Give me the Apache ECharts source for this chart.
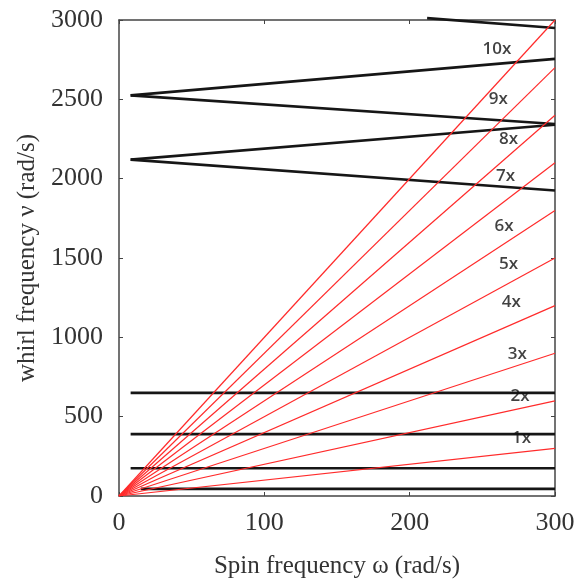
<!DOCTYPE html>
<html>
<head>
<meta charset="utf-8">
<script src="https://cdn.jsdelivr.net/npm/echarts@6/dist/echarts.min.js"></script>
<style>html,body{margin:0;padding:0;background:#fff}#c{width:585px;height:585px}</style>
</head>
<body>
<div id="c"></div>
<script>
// Spin speed range (rad/s) and engine-order ratios (red lines)
const spinRange = [0, 300];
const orderRatios = [1, 2, 3, 4, 5, 6, 7, 8, 9, 10];
// Horizontal (non-rotating) modes: level, start spin
const modeLevels = [45, 175, 390, 650];
const modeStarts = [15, 8, 8, 8];
// Forward/backward whirl branches [startSpin, startFreq, endSpin, endFreq]
const whirlBranches = [
  [8, 2120, 300, 2340],
  [8, 2120, 300, 1925],
  [8, 2525, 300, 2755],
  [8, 2525, 300, 2345],
  [212, 3012, 300, 2950]
];
// Order labels
const labelText = ['1x','2x','3x','4x','5x','6x','7x','8x','9x','10x'];
const labelX = [277, 276, 274, 270, 268, 265, 266, 268, 261, 260];
const labelY = [365, 630, 895, 1222, 1462, 1701, 2016, 2250, 2502, 2817];
const xTicks = [0, 100, 200, 300];
const yTicks = [0, 500, 1000, 1500, 2000, 2500, 3000];

const series = [];
orderRatios.forEach(k => {
  series.push({
    type: 'line', silent: true, symbol: 'none', z: 3,
    lineStyle: { color: '#ff2b2b', width: 1.2 },
    data: [[spinRange[0], k * spinRange[0]], [spinRange[1], k * spinRange[1]]]
  });
});
modeLevels.forEach((v, i) => {
  series.push({
    type: 'line', silent: true, symbol: 'none', z: 2,
    lineStyle: { color: '#161616', width: 2.6 },
    data: [[modeStarts[i], v], [spinRange[1], v]]
  });
});
whirlBranches.forEach(b => {
  series.push({
    type: 'line', silent: true, symbol: 'none', z: 2, clip: false,
    lineStyle: { color: '#161616', width: 2.6 },
    data: [[b[0], b[1]], [b[2], b[3]]]
  });
});
series.push({
  type: 'scatter', silent: true, symbolSize: 0, z: 5,
  data: labelText.map((t, i) => ({ value: [labelX[i], labelY[i]], name: t })),
  label: {
    show: true, position: 'inside', formatter: p => p.name,
    fontFamily: 'Open Sans', fontWeight: 600, fontSize: 17, color: '#111'
  }
});

const axisFont = { fontFamily: 'Liberation Serif', fontSize: 25, color: '#333' };
const plain = v => String(v);
const chart = echarts.init(document.getElementById('c'), null, { renderer: 'canvas' });
chart.setOption({
  animation: false,
  backgroundColor: '#fff',
  grid: { left: 119, right: 30, top: 20, bottom: 89 },
  xAxis: [{
    type: 'value', min: xTicks[0], max: xTicks[xTicks.length - 1], interval: 100,
    name: 'Spin frequency \u03C9 (rad/s)', nameLocation: 'middle', nameGap: 58,
    nameTextStyle: axisFont,
    axisLine: { show: true, onZero: false, lineStyle: { color: '#444', width: 1.5 } },
    axisTick: { show: true, inside: true, length: 4, lineStyle: { color: '#444' } },
    axisLabel: { fontFamily: 'Liberation Serif', fontSize: 26, color: '#333', margin: 14, formatter: plain },
    splitLine: { show: false }
  }, {
    type: 'value', position: 'top', min: 0, max: 300, interval: 100,
    axisLine: { show: true, onZero: false, lineStyle: { color: '#444', width: 1.5 } },
    axisTick: { show: true, inside: true, length: 4, lineStyle: { color: '#444' } },
    axisLabel: { show: false }, splitLine: { show: false }
  }],
  yAxis: [{
    type: 'value', min: yTicks[0], max: yTicks[yTicks.length - 1], interval: 500,
    name: 'whirl frequency \u03BD (rad/s)', nameLocation: 'middle', nameGap: 76,
    nameTextStyle: axisFont,
    axisLine: { show: true, onZero: false, lineStyle: { color: '#444', width: 1.5 } },
    axisTick: { show: true, inside: true, length: 4, lineStyle: { color: '#444' } },
    axisLabel: { fontFamily: 'Liberation Serif', fontSize: 26, color: '#333', margin: 16, formatter: plain },
    splitLine: { show: false }
  }, {
    type: 'value', position: 'right', min: 0, max: 3000, interval: 500,
    axisLine: { show: true, onZero: false, lineStyle: { color: '#444', width: 1.5 } },
    axisTick: { show: true, inside: true, length: 4, lineStyle: { color: '#444' } },
    axisLabel: { show: false }, splitLine: { show: false }
  }],
  series: series
});
</script>
</body>
</html>
